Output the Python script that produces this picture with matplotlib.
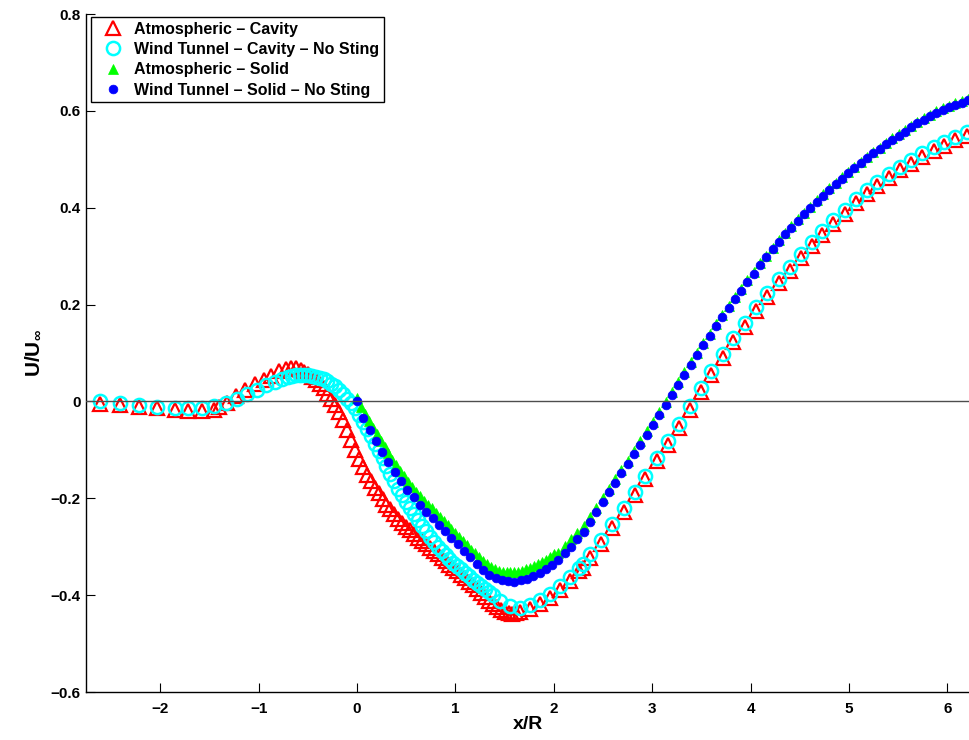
import numpy as np
import matplotlib
matplotlib.use("Agg")
import matplotlib.pyplot as plt

plt.rcParams['font.family'] = ['Liberation Sans', 'DejaVu Sans']
plt.rcParams['font.weight'] = 'bold'
plt.rcParams['mathtext.fontset'] = 'custom'
plt.rcParams['mathtext.rm'] = 'Liberation Sans'
plt.rcParams['mathtext.bf'] = 'Liberation Sans:bold'

# ---------------- data ----------------
labels = ["Atmospheric \u2013 Cavity",
          "Wind Tunnel \u2013 Cavity \u2013 No Sting",
          "Atmospheric \u2013 Solid",
          "Wind Tunnel \u2013 Solid \u2013 No Sting"]

red_x = [-2.61, -2.41, -2.22, -2.03, -1.85, -1.72, -1.58, -1.45,
         -1.40, -1.32, -1.23, -1.14, -1.04, -0.95, -0.87, -0.79, -0.72, -0.67, -0.62, -0.57,
         -0.54, -0.50, -0.46, -0.42, -0.38, -0.34, -0.30, -0.26, -0.22, -0.18,
         -0.14, -0.10, -0.06, -0.02, 0.02, 0.06, 0.10, 0.14, 0.18, 0.22,
         0.26, 0.30, 0.34, 0.38, 0.42, 0.46, 0.50, 0.54, 0.58, 0.62,
         0.66, 0.70, 0.74, 0.78, 0.82, 0.86, 0.90, 0.94, 0.98, 1.02,
         1.06, 1.10, 1.14, 1.18, 1.22, 1.26, 1.30, 1.34, 1.38, 1.42,
         1.46, 1.50, 1.54, 1.58, 1.62,
         1.66, 1.76, 1.86, 1.96, 2.06, 2.165, 2.26, 2.30,
         2.37, 2.48, 2.59, 2.71, 2.83, 2.93, 3.05, 3.16, 3.27, 3.38,
         3.50, 3.60, 3.72, 3.82, 3.94, 4.06, 4.17, 4.29, 4.40, 4.51,
         4.62, 4.73, 4.84, 4.96, 5.07, 5.18, 5.29, 5.41, 5.52, 5.63,
         5.745, 5.86, 5.97, 6.08, 6.20]
red_y = [-0.005, -0.008, -0.011, -0.014, -0.017, -0.019, -0.019, -0.017,
         -0.012, -0.004, 0.012, 0.024, 0.035, 0.045, 0.053, 0.062, 0.067, 0.069, 0.068, 0.065,
         0.061, 0.057, 0.051, 0.044, 0.036, 0.027, 0.016, 0.004, -0.008, -0.022,
         -0.038, -0.058, -0.080, -0.100, -0.119, -0.136, -0.152, -0.165, -0.178, -0.190,
         -0.202, -0.213, -0.223, -0.233, -0.242, -0.251, -0.259, -0.266, -0.274, -0.281,
         -0.288, -0.295, -0.302, -0.309, -0.316, -0.323, -0.330, -0.337, -0.344, -0.351,
         -0.358, -0.365, -0.372, -0.380, -0.388, -0.396, -0.404, -0.412, -0.419, -0.425,
         -0.430, -0.434, -0.437, -0.438, -0.437,
         -0.434, -0.428, -0.418, -0.405, -0.389, -0.370, -0.350, -0.344,
         -0.324, -0.294, -0.262, -0.229, -0.194, -0.161, -0.124, -0.089, -0.054, -0.018,
         0.019, 0.054, 0.089, 0.122, 0.154, 0.186, 0.215, 0.244, 0.270, 0.296,
         0.321, 0.344, 0.367, 0.388, 0.409, 0.428, 0.445, 0.461, 0.477, 0.491,
         0.504, 0.517, 0.528, 0.539, 0.549]

cyan_x = [-2.61, -2.41, -2.22, -2.03, -1.85, -1.72, -1.58, -1.45, -1.33, -1.22,
          -1.12, -1.02, -0.92, -0.83, -0.76, -0.70,
          -0.66, -0.62, -0.58, -0.54, -0.50, -0.46, -0.42, -0.38, -0.34, -0.30,
          -0.26, -0.22, -0.18, -0.14, -0.10, -0.06, -0.02, 0.02, 0.06, 0.10,
          0.14, 0.18, 0.22, 0.26, 0.30, 0.34, 0.38, 0.42, 0.46, 0.50,
          0.54, 0.58, 0.62, 0.66, 0.70, 0.74, 0.78, 0.82, 0.86, 0.90,
          0.94, 0.98, 1.02, 1.06, 1.10, 1.14, 1.18, 1.22, 1.26, 1.30,
          1.34, 1.38,
          1.45, 1.555, 1.66, 1.76, 1.86, 1.96, 2.06, 2.165, 2.26, 2.30,
          2.37, 2.48, 2.59, 2.71, 2.83, 2.93, 3.05, 3.16, 3.27, 3.38,
          3.50, 3.60, 3.72, 3.82, 3.94, 4.06, 4.17, 4.29, 4.40, 4.51,
          4.62, 4.73, 4.84, 4.96, 5.07, 5.18, 5.29, 5.41, 5.52, 5.63,
          5.745, 5.86, 5.97, 6.08, 6.20]
cyan_y = [0.000, -0.004, -0.007, -0.011, -0.013, -0.014, -0.013, -0.010, -0.003, 0.006,
          0.015, 0.024, 0.033, 0.041, 0.046, 0.050,
          0.052, 0.054, 0.055, 0.055, 0.054, 0.053, 0.051, 0.049, 0.046, 0.042,
          0.037, 0.031, 0.024, 0.015, 0.005, -0.004, -0.014, -0.027, -0.042, -0.057,
          -0.072, -0.087, -0.102, -0.117, -0.133, -0.149, -0.165, -0.180, -0.194, -0.207,
          -0.220, -0.233, -0.245, -0.257, -0.268, -0.279, -0.290, -0.300, -0.309, -0.317,
          -0.325, -0.333, -0.340, -0.347, -0.354, -0.361, -0.368, -0.374, -0.381, -0.387,
          -0.393, -0.399,
          -0.412, -0.422, -0.426, -0.421, -0.411, -0.398, -0.381, -0.362, -0.343, -0.336,
          -0.316, -0.286, -0.254, -0.221, -0.186, -0.153, -0.116, -0.081, -0.046, -0.010,
          0.027, 0.062, 0.097, 0.130, 0.162, 0.194, 0.223, 0.252, 0.278, 0.304,
          0.329, 0.352, 0.375, 0.396, 0.417, 0.436, 0.453, 0.469, 0.485, 0.499,
          0.512, 0.525, 0.536, 0.547, 0.557]

# Atmospheric - Solid: fine sampling (step 0.04) up to x/R = 2, then step 0.064
green_fine_dx = 0.04
green_y_fine = [0.008, -0.012, -0.026, -0.041, -0.055, -0.068, -0.081, -0.094, -0.107, -0.120,
                -0.132, -0.144, -0.155, -0.166, -0.176, -0.186, -0.195, -0.205, -0.213, -0.221,
                -0.230, -0.239, -0.247, -0.255, -0.263, -0.271, -0.279, -0.288, -0.297, -0.306,
                -0.314, -0.322, -0.330, -0.336, -0.342, -0.347, -0.350, -0.352, -0.353, -0.353,
                -0.353, -0.352, -0.350, -0.347, -0.344, -0.340, -0.336, -0.332, -0.327, -0.322,
                -0.316]
green_coarse_dx = 0.064
green_coarse_start = 32      # first coarse sample index (x/R = 2.048)
green_y_coarse = [-0.312, -0.298, -0.285, -0.271, -0.257, -0.239, -0.220, -0.200,
                  -0.181, -0.161, -0.141, -0.122, -0.102, -0.082, -0.062, -0.042, -0.021, -0.001,
                  0.020, 0.041, 0.061, 0.082, 0.101, 0.121, 0.140, 0.160, 0.178, 0.197,
                  0.215, 0.233, 0.251, 0.268, 0.285, 0.301, 0.317, 0.333, 0.348, 0.362,
                  0.376, 0.389, 0.402, 0.415, 0.428, 0.440, 0.452, 0.463, 0.474, 0.484,
                  0.495, 0.505, 0.515, 0.524, 0.534, 0.543, 0.552, 0.560, 0.569, 0.577,
                  0.585, 0.592, 0.599, 0.605, 0.611, 0.616, 0.620, 0.625]

# Wind Tunnel - Solid: step 0.064 from x/R = 0
blue_dx = 0.064
blue_y = [0.000, -0.035, -0.060, -0.082, -0.104, -0.125, -0.146, -0.164, -0.182, -0.198,
          -0.213, -0.228, -0.241, -0.255, -0.268, -0.281, -0.294, -0.308, -0.322, -0.336,
          -0.348, -0.358, -0.365, -0.369, -0.371, -0.372, -0.369, -0.366, -0.361, -0.355,
          -0.347, -0.338, -0.327, -0.314, -0.300, -0.285, -0.270, -0.249, -0.229, -0.208,
          -0.188, -0.168, -0.148, -0.129, -0.109, -0.089, -0.069, -0.049, -0.028, -0.008,
          0.013, 0.034, 0.055, 0.076, 0.096, 0.116, 0.135, 0.155, 0.174, 0.193,
          0.211, 0.229, 0.247, 0.264, 0.281, 0.298, 0.314, 0.330, 0.345, 0.359,
          0.373, 0.386, 0.399, 0.412, 0.425, 0.437, 0.449, 0.460, 0.471, 0.481,
          0.492, 0.502, 0.512, 0.521, 0.531, 0.540, 0.549, 0.557, 0.566, 0.574,
          0.582, 0.589, 0.596, 0.602, 0.608, 0.613, 0.617, 0.622]

green_x = np.concatenate([green_fine_dx * np.arange(len(green_y_fine)),
                          green_coarse_dx * (green_coarse_start + np.arange(len(green_y_coarse)))])
green_y = green_y_fine + green_y_coarse
blue_x = blue_dx * np.arange(len(blue_y))

xticks = [-2, -1, 0, 1, 2, 3, 4, 5, 6]
yticks = [-0.6, -0.4, -0.2, 0, 0.2, 0.4, 0.6, 0.8]

# ---------------- figure ----------------
fig = plt.figure(figsize=(9.69, 7.40), dpi=100)
ax = fig.add_axes([86 / 969, 48 / 740, 883 / 969, 678 / 740])

ax.plot(red_x, red_y, linestyle='none', marker='^', ms=10, mfc='none', mec='red',
        mew=1.6, label=labels[0], zorder=2)
ax.plot(cyan_x, cyan_y, linestyle='none', marker='o', ms=9.5, mfc='none', mec='cyan',
        mew=1.8, label=labels[1], zorder=3)
ax.plot(green_x, green_y, linestyle='none', marker='^', ms=7, mfc=(0, 1, 0), mec=(0, 1, 0),
        mew=0.5, label=labels[2], zorder=4)
ax.plot(blue_x, blue_y, linestyle='none', marker='o', ms=6.3, mfc='blue', mec='blue',
        mew=0.5, label=labels[3], zorder=5)
ax.axhline(0, color='0.3', lw=1.0, zorder=6)

ax.set_xlim(-2.754, 6.220)
ax.set_ylim(-0.6, 0.8)
ax.set_xticks(xticks)
ax.set_yticks(yticks)
ax.set_xticklabels([f"{t:g}".replace('-', '\u2212') for t in xticks])
ax.set_yticklabels(["0" if t == 0 else f"{t:.1f}".replace('-', '\u2212') for t in yticks])
ax.tick_params(direction='in', length=6.5, width=0.8, labelsize=11, colors='black')
ax.tick_params(axis='x', pad=7)
ax.tick_params(axis='y', pad=4)
for lab in ax.get_xticklabels() + ax.get_yticklabels():
    lab.set_fontweight('bold')
ax.spines['top'].set_visible(False)
ax.spines['right'].set_visible(False)
ax.spines['left'].set_linewidth(1.0)
ax.spines['bottom'].set_linewidth(1.0)

ax.set_xlabel('x/R', fontsize=14, fontweight='bold', labelpad=0)
ax.set_ylabel(r'$\mathbf{U/U}_{\infty}$', fontsize=15, labelpad=6)

leg = ax.legend(loc='upper left', bbox_to_anchor=(5 / 883, 1 - 3 / 678), borderaxespad=0,
                numpoints=1, fancybox=False, framealpha=1, edgecolor='black',
                prop={'weight': 'bold', 'size': 11.5}, handlelength=2.1, handletextpad=0.32,
                labelspacing=0.33, borderpad=0.3)
leg.get_frame().set_linewidth(1.0)

fig.savefig('out.png', dpi=100)
